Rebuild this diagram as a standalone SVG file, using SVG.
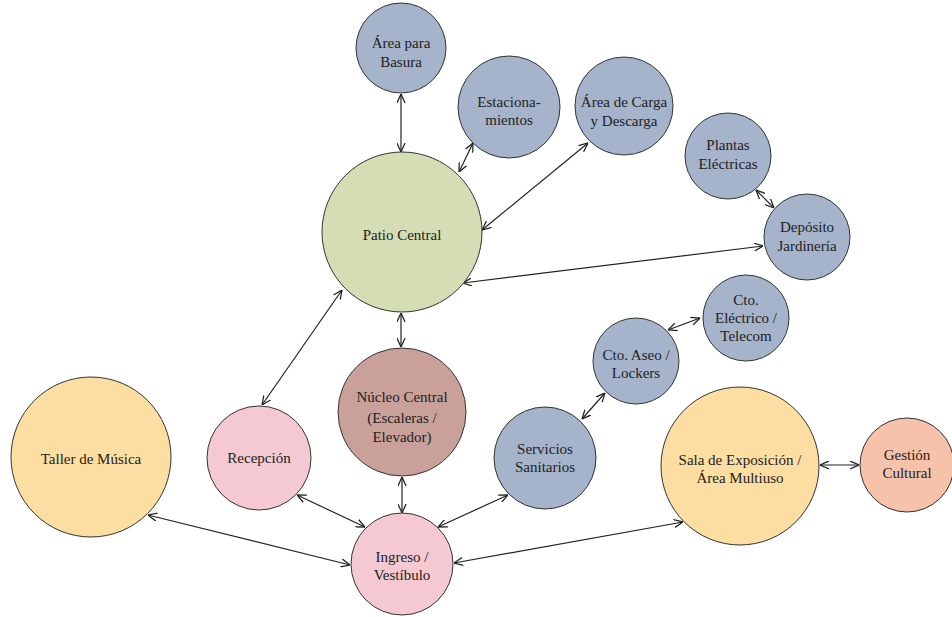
<svg xmlns="http://www.w3.org/2000/svg" width="952" height="617" viewBox="0 0 952 617">
<defs>
<marker id="ah" viewBox="0 0 10 10" refX="10" refY="5" markerWidth="9" markerHeight="9" markerUnits="userSpaceOnUse" orient="auto-start-reverse">
<path d="M0,0.5 L10,5 L0,9.5" fill="none" stroke="#222" stroke-width="1.4"/>
</marker>
</defs>
<style>
.n{stroke:#333;stroke-width:1}
.blue{fill:#A5B3CB}
.green{fill:#D5DDB5}
.brown{fill:#C9A19A}
.pink{fill:#F5C9D1}
.orange{fill:#FDDEA2}
.salmon{fill:#F7C2AA}
text{font-family:'Liberation Serif','Times New Roman',Times,'DejaVu Serif',serif;font-size:15px;fill:#222;text-anchor:middle}
.e{stroke:#222;stroke-width:1.2;fill:none;marker-start:url(#ah);marker-end:url(#ah)}
</style>
<rect width="952" height="617" fill="#fff"/>
<g id="connectors">
<line class="e" x1="401" y1="94" x2="401" y2="152"/>
<line class="e" x1="473" y1="143" x2="459" y2="172"/>
<line class="e" x1="588" y1="143" x2="482" y2="230"/>
<line class="e" x1="463" y1="283" x2="763" y2="246"/>
<line class="e" x1="756" y1="190" x2="774" y2="208"/>
<line class="e" x1="342" y1="290" x2="262" y2="405"/>
<line class="e" x1="401" y1="313" x2="401" y2="347"/>
<line class="e" x1="402" y1="477" x2="402" y2="513"/>
<line class="e" x1="297" y1="495" x2="365" y2="527"/>
<line class="e" x1="148" y1="515" x2="350" y2="565"/>
<line class="e" x1="508" y1="495" x2="438" y2="527"/>
<line class="e" x1="582" y1="419" x2="605" y2="393"/>
<line class="e" x1="668" y1="330" x2="700" y2="318"/>
<line class="e" x1="454" y1="563" x2="683" y2="522"/>
<line class="e" x1="820" y1="465" x2="859" y2="465"/>
</g>
<g id="basura"><circle class="n blue" cx="401" cy="48" r="45"/><text x="401" y="48" font-family="Liberation Serif, serif">Área para</text><text x="401" y="67">Basura</text></g>
<g id="estacionamientos"><circle class="n blue" cx="509" cy="107" r="51"/><text x="509" y="107">Estaciona-</text><text x="509" y="125">mientos</text></g>
<g id="carga"><circle class="n blue" cx="624" cy="106" r="49"/><text x="624" y="107">Área de Carga</text><text x="624" y="126">y Descarga</text></g>
<g id="patio"><circle class="n green" cx="402" cy="232" r="80"/><text x="402" y="240">Patio Central</text></g>
<g id="plantas"><circle class="n blue" cx="728" cy="156" r="43"/><text x="728" y="150">Plantas</text><text x="728" y="169">Eléctricas</text></g>
<g id="deposito"><circle class="n blue" cx="807" cy="237" r="43"/><text x="807" y="232">Depósito</text><text x="807" y="251">Jardinería</text></g>
<g id="electrico"><circle class="n blue" cx="746" cy="318" r="43"/><text x="746" y="305">Cto.</text><text x="746" y="323">Eléctrico /</text><text x="746" y="341">Telecom</text></g>
<g id="aseo"><circle class="n blue" cx="636" cy="361" r="43"/><text x="636" y="360">Cto. Aseo /</text><text x="636" y="378">Lockers</text></g>
<g id="servicios"><circle class="n blue" cx="545" cy="458" r="51"/><text x="545" y="454">Servicios</text><text x="545" y="472">Sanitarios</text></g>
<g id="nucleo"><circle class="n brown" cx="402" cy="412" r="64"/><text x="402" y="402">Núcleo Central</text><text x="402" y="423">(Escaleras /</text><text x="402" y="442">Elevador)</text></g>
<g id="ingreso"><circle class="n pink" cx="402" cy="564" r="51"/><text x="402" y="562">Ingreso /</text><text x="402" y="580">Vestíbulo</text></g>
<g id="recepcion"><circle class="n pink" cx="259" cy="458" r="52"/><text x="259" y="463">Recepción</text></g>
<g id="taller"><circle class="n orange" cx="91" cy="457" r="80"/><text x="91" y="464">Taller de Música</text></g>
<g id="sala"><circle class="n orange" cx="740" cy="466" r="79"/><text x="740" y="465">Sala de Exposición /</text><text x="740" y="483">Área Multiuso</text></g>
<g id="gestion"><circle class="n salmon" cx="907" cy="465" r="47"/><text x="907" y="460">Gestión</text><text x="907" y="478">Cultural</text></g>
</svg>
